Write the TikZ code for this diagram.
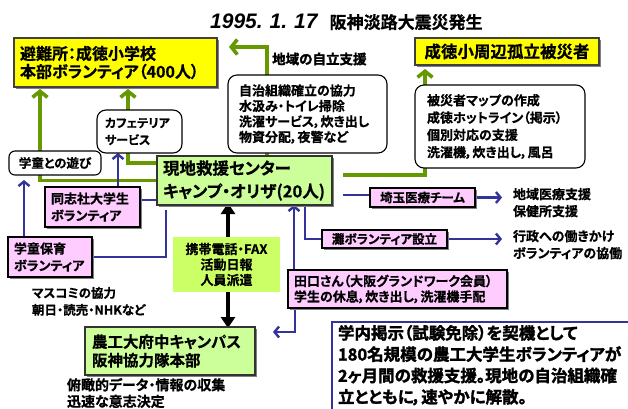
\documentclass[tikz,border=0pt]{standalone}
\usepackage{fontspec}
\setmainfont{Noto Sans CJK JP Bold}[RawFeature=+palt,FakeBold=0.6]
\newfontfamily\heavy{Noto Sans CJK JP Bold}[FakeBold=1.8,RawFeature=+palt]
\newfontfamily\lat{Liberation Sans}
\usetikzlibrary{arrows.meta,calc,shadows}
\pgfdeclarelayer{bg}
\pgfsetlayers{bg,main}
\definecolor{ylw}{HTML}{FFFF00}
\definecolor{lgreen}{HTML}{CCFF99}
\definecolor{kgreen}{HTML}{CCFF66}
\definecolor{pnk}{HTML}{FFCCFF}
\definecolor{gline}{HTML}{669900}
\definecolor{bline}{HTML}{333399}
\newcommand\jfs[2]{\fontsize{#1}{#2}\selectfont}
\begin{document}
\begin{tikzpicture}[x=1pt,y=-1pt,
  bx/.style={anchor=north west, inner ysep=0pt, outer sep=0pt, align=left},
  shd/.style={drop shadow={shadow xshift=1.5pt,shadow yshift=-1.5pt,fill=black!50,opacity=1}},
  rbox/.style={bx, draw=black, fill=white, rounded corners=9pt, line width=1.1pt},
  pbox/.style={bx, draw=black, fill=pnk, line width=1.2pt, shd},
  ybox/.style={bx, draw=black!75, fill=ylw, line width=1.2pt, shd},
  gbox/.style={bx, draw=black!80, fill=lgreen, line width=1.2pt, shd},
  txt/.style={anchor=north west, inner sep=0pt, outer sep=0pt, align=left},
  gconn/.style={draw=gline, line width=3.6pt},
  garr/.style={gconn, -{Straight Barb[length=6pt,width=15pt]}},
  bconn/.style={draw=bline, line width=2.4pt},
  barrow/.style={bconn, -{Straight Barb[length=4.5pt,width=11pt]}},
  karr/.style={draw=black, line width=3.6pt, {Triangle[length=11pt,width=14pt]}-{Triangle[length=11pt,width=14pt]}}
]
\useasboundingbox (0,0) rectangle (628,408);

% title
\node[anchor=west, inner sep=0pt] (title) at (210,22)
  {{\lat\bfseries\itshape\fontsize{21}{22}\selectfont 1995.\hspace{7pt}1.\hspace{7pt}17}\hspace{12pt}{\jfs{17}{20}阪神淡路大震災発生}};

% top boxes
\node[ybox, inner xsep=6pt, text width=191pt, minimum height=49pt, font=\jfs{16}{18}] (hinan) at (14,38)
  {避難所：成徳小学校\\本部ボランティア（400人）};
\node[ybox, align=center, inner xsep=4pt, text width=176pt, minimum height=27pt, font=\jfs{16.5}{18}] (koritsu) at (415,38)
  {成徳小周辺孤立被災者};
\node[anchor=west, inner sep=0pt, font=\heavy\fontsize{13.5}{16}\selectfont] (jiritsu) at (272,59) {地域の自立支援};

% rounded boxes
\node[rbox, inner xsep=11pt, text width=137pt, minimum height=78pt, font=\jfs{13}{15.5}] (jichi) at (228,75)
  {自治組織確立の協力\\水汲み・トイレ掃除\\洗濯サービス，炊き出し\\物資分配，夜警など};
\node[rbox, inner xsep=12pt, text width=146pt, minimum height=83pt, font=\jfs{13}{17.3}] (map) at (415,85)
  {被災者マップの作成\\成徳ホットライン（掲示）\\個別対応の支援\\洗濯機，炊き出し，風呂};
\node[rbox, inner xsep=8pt, text width=69pt, minimum height=43pt, font=\jfs{12}{17}] (cafe) at (97,110)
  {カフェテリア\\サービス};
\node[rbox, rounded corners=6pt, align=center, inner xsep=4pt, text width=84pt, minimum height=24pt, font=\jfs{12.5}{15}] (gakudo) at (9,151)
  {学童との遊び};

% center
\node[gbox, inner xsep=6pt, text width=163pt, minimum height=49pt, font=\jfs{16.5}{23}] (center) at (157,156)
  {現地救援センター\\キャンプ・オリザ(20人)};

% pink boxes
\node[pbox, inner xsep=6pt, text width=83pt, minimum height=40pt, font=\jfs{13}{17}] (doshisha) at (45,187)
  {同志社大学生\\ボランティア};
\node[pbox, inner xsep=6pt, text width=72pt, minimum height=40pt, font=\jfs{13}{17}] (hoiku) at (8,237)
  {学童保育\\ボランティア};
\node[pbox, align=center, inner xsep=3pt, text width=99pt, minimum height=19pt, font=\jfs{12.5}{15}] (saitama) at (370,188)
  {埼玉医療チーム};
\node[pbox, align=center, inner xsep=3pt, text width=119pt, minimum height=18pt, font=\jfs{12.5}{15}] (nada) at (322,230)
  {灘ボランティア設立};
\node[pbox, inner xsep=6pt, text width=207pt, minimum height=38pt, font=\jfs{13}{15.5}] (taguchi) at (288,270)
  {田口さん（大阪グランドワーク会員）\\学生の休息，炊き出し，洗濯機手配};

% keitai
\node[bx, fill=kgreen, align=center, inner xsep=3pt, text width=101pt, minimum height=55pt, font=\jfs{13}{15.5}] (keitai) at (173,237)
  {携帯電話・FAX\\活動日報\\人員派遣};

% noko
\node[gbox, inner xsep=7pt, text width=156pt, minimum height=48pt, font=\jfs{15.5}{18.5}] (noko) at (85,327)
  {農工大府中キャンパス\\阪神協力隊本部};

% free texts
\node[txt, font=\jfs{13}{17}] (iryo) at (513,188) {地域医療支援\\保健所支援};
\node[txt, font=\jfs{13}{17}] (gyosei) at (513,230) {行政への働きかけ\\ボランティアの協働};
\node[txt, font=\jfs{12.5}{17}] (masukomi) at (32,287) {マスコミの協力\\朝日・読売・NHKなど};
\node[txt, font=\jfs{14}{16.5}] (fukan) at (67,378) {俯瞰的データ・情報の収集\\迅速な意志決定};

% bottom note
\node[bx, draw=bline, line width=2pt, fill=white, minimum width=320pt, minimum height=100pt] (notebox) at (332,322) {};
\node[txt, font=\heavy\fontsize{16.5}{21.3}\selectfont] (notetext) at (338,325)
  {学内掲示（試験免除）を契機として\\180名規模の農工大学生ボランティアが\\2ヶ月間の救援支援。現地の自治組織確\\立とともに，速やかに解散。};

\begin{pgfonlayer}{bg}
  \fill[white] (0,0) rectangle (628,408);
  % green connectors
  \draw[garr, shorten >=2pt] (center.west) -| ($(hinan.south west)+(26,0)$);
  \draw[garr, shorten >=2pt] ([yshift=-7pt]center.north west) -| ($(hinan.south west)+(114,0)$);
  \draw[garr, shorten >=12pt] ([xshift=110pt]center.north west) |- ([yshift=15.5pt]hinan.east);
  \draw[garr, shorten <=11pt, shorten >=4pt] ([yshift=5.5pt]center.east) -| ([xshift=10pt]koritsu.south west);
  % black double arrow
  \coordinate (k1) at ([xshift=71pt]center.south west);
  \draw[karr, shorten <=-2pt, shorten >=-1pt] (k1) -- (k1 |- noko.north);
  % blue connectors
  \coordinate (b1) at ([xshift=73pt]doshisha.north west);
  \draw[barrow] (b1) -- (b1 |- cafe.south);
  \coordinate (b2) at ([yshift=7pt]doshisha.east);
  \draw[bconn] (b2) -- (b2 -| center.west);
  \coordinate (b3) at ([xshift=16pt]hoiku.north west);
  \draw[barrow, shorten >=5pt] (b3) -- (b3 |- gakudo.south);
  \draw[bconn, shorten >=5pt] (hoiku.east) -| ([xshift=9pt]center.south west);
  \coordinate (b5) at ([xshift=6pt]taguchi.north west);
  \draw[barrow] (b5) -- (b5 |- center.south);
  \draw[barrow, shorten >=18pt] ([xshift=7pt]taguchi.south west) |- ([yshift=19pt]noko.east);
  \coordinate (b7) at ([yshift=-14.5pt]center.east);
  \draw[bconn, shorten <=11pt] (b7) -- (b7 -| saitama.west);
  \draw[barrow, shorten >=11pt] (saitama.east) -- (saitama.east -| iryo.west);
  \draw[bconn] ([xshift=148pt]center.south west) |- (nada.west);
  \draw[barrow, shorten >=11pt] (nada.east) -- (nada.east -| gyosei.west);
\end{pgfonlayer}
\end{tikzpicture}
\end{document}
